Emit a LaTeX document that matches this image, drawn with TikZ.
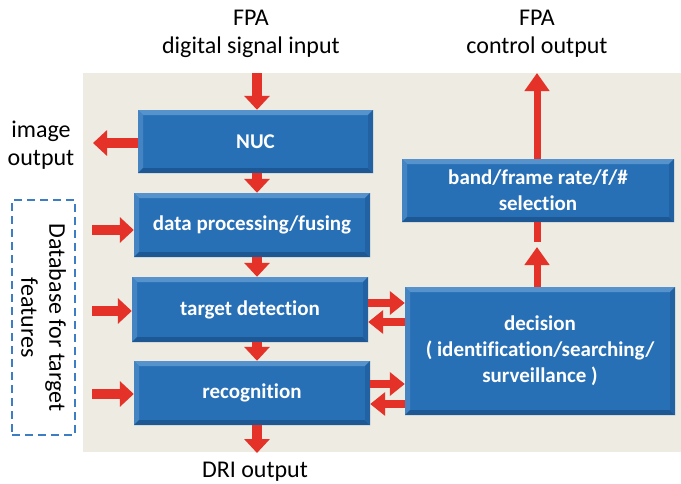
\documentclass[tikz,border=0pt]{standalone}
\usepackage{fontspec}
\setmainfont{Carlito}[Ligatures=NoCommon,RawFeature={-liga;-dlig;-calt}]
\usetikzlibrary{arrows.meta,calc}

\definecolor{panel}{RGB}{238,235,226}
\definecolor{boxblue}{RGB}{40,112,182}
\definecolor{bevlight}{RGB}{86,146,204}
\definecolor{bevdark}{RGB}{30,88,148}
\definecolor{arrowred}{RGB}{228,50,40}
\definecolor{dashblue}{RGB}{60,125,195}

\tikzset{
  block/.style={fill=boxblue, text=white, font=\fontsize{21}{26}\selectfont\bfseries,
    align=center, inner sep=0pt,
    path picture={
      \coordinate (nw) at (path picture bounding box.north west);
      \coordinate (ne) at (path picture bounding box.north east);
      \coordinate (sw) at (path picture bounding box.south west);
      \coordinate (se) at (path picture bounding box.south east);
      \fill[bevlight] (nw) -- (ne) -- ($(ne)+(-5pt,-5pt)$) -- ($(nw)+(5pt,-5pt)$) -- cycle;
      \fill[bevlight!60!boxblue] (nw) -- (sw) -- ($(sw)+(5pt,5pt)$) -- ($(nw)+(5pt,-5pt)$) -- cycle;
      \fill[bevdark] (sw) -- (se) -- ($(se)+(-5pt,5pt)$) -- ($(sw)+(5pt,5pt)$) -- cycle;
      \fill[bevdark!60!boxblue] (ne) -- (se) -- ($(se)+(-5pt,5pt)$) -- ($(ne)+(-5pt,-5pt)$) -- cycle;
    }},
  label/.style={font=\fontsize{24}{28}\selectfont, align=center, inner sep=0pt},
  bigarrow/.style={draw=arrowred, line width=10pt, -{Triangle[width=25pt,length=14pt]}},
  thinarrow/.style={draw=arrowred, line width=8pt, -{Triangle[width=23pt,length=15pt]}},
  uparrow/.style={draw=arrowred, line width=7pt, -{Triangle[width=24pt,length=18pt]}},
}

\begin{document}
\begin{tikzpicture}[x=1pt,y=-1pt]
  \useasboundingbox (0,0) rectangle (681,483);
  % background panel
  \fill[panel] (83,73) rectangle (681,452);

  % processing blocks
  \node[block, minimum width=235pt, minimum height=63pt] (nuc) at (255.5,141.5) {NUC};
  \node[block, minimum width=236pt, minimum height=64pt] (data) at (252,225) {data processing/fusing};
  \node[block, minimum width=236pt, minimum height=65pt] (det) at (250,309.5) {target detection};
  \node[block, minimum width=236pt, minimum height=64pt] (rec) at (252,393) {recognition};
  \node[block, minimum width=272pt, minimum height=63pt] (band) at (538,190.5) {band/frame rate/f/\#\\selection};
  \node[block, minimum width=270pt, minimum height=128pt] (dec) at (540,351) {decision\\( identification/searching/\\surveillance )};

  % outer labels
  \node[label] (fpain) at (251,34) {FPA\\digital signal input};
  \node[label] (fpaout) at (537,34) {FPA\\control output};
  \node[label] (imgout) at (41,145) {image\\output};
  \node[label] (dri) at (255,472) {DRI output};

  % feature database
  \node[draw=dashblue, line width=2pt, dash pattern=on 8pt off 5pt,
        minimum width=63pt, minimum height=235pt] (db) at (43.5,317.5) {};
  \node[label, rotate=-90] (dbtext) at (db.center) {Database for target\\features};

  \coordinate (inTop) at (257,73);
  \coordinate (driEnd) at (257,453);
  \coordinate (imgEnd) at (93,143);
  \coordinate (outTop) at (537,73);

  % main chain
  \draw[bigarrow] (inTop) -- (257,0 |- nuc.north);
  \draw[bigarrow] (257,0 |- nuc.south) -- (257,0 |- data.north);
  \draw[bigarrow] (257,0 |- data.south) -- (257,0 |- det.north);
  \draw[bigarrow] (257,0 |- det.south) -- (257,0 |- rec.north);
  \draw[bigarrow] (257,0 |- rec.south) -- (driEnd);

  % image output and database inputs
  \draw[bigarrow] (nuc.west |- 0,143) -- (imgEnd);
  \draw[bigarrow] (92,230) -- (data.west |- 0,230);
  \draw[bigarrow] (92,311) -- (det.west |- 0,311);
  \draw[bigarrow] (92,394) -- (rec.west |- 0,394);

  % exchanges with decision
  \draw[thinarrow] (det.east |- 0,303) -- (dec.west |- 0,303);
  \draw[thinarrow] (dec.west |- 0,322) -- (det.east |- 0,322);
  \draw[thinarrow] (rec.east |- 0,384) -- (dec.west |- 0,384);
  \draw[thinarrow] (dec.west |- 0,404) -- (rec.east |- 0,404);

  % decision to selection, selection to control output
  \draw[uparrow] (537,0 |- dec.north) -- (537,247);
  \draw[draw=arrowred, line width=7pt] (537,0 |- band.south) -- (537,242);
  \draw[uparrow] (537,0 |- band.north) -- (outTop);
\end{tikzpicture}
\end{document}
